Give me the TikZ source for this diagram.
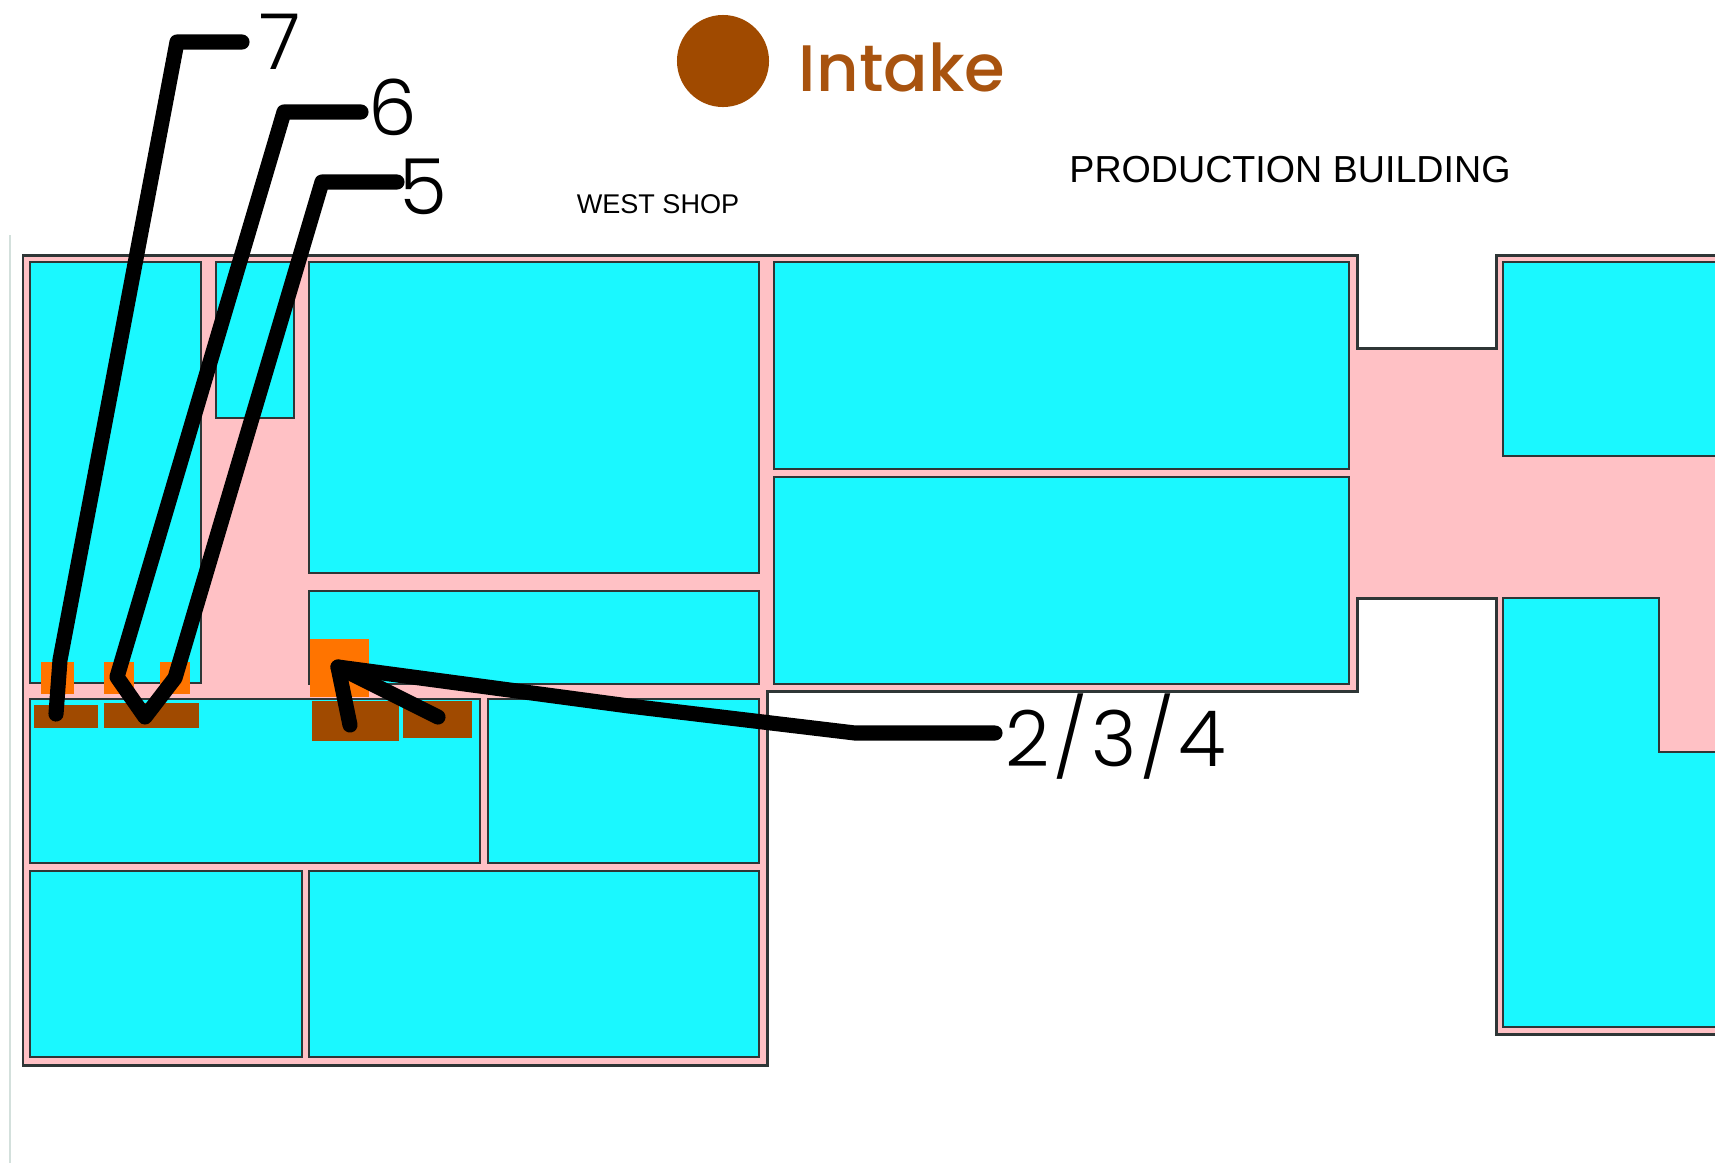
\documentclass[tikz,border=0pt]{standalone}
\usepackage{fontspec}
\setmainfont{Liberation Sans}
\newfontfamily\introfont{Poppins Medium}
\newfontfamily\digitfont{Poppins Light}
\definecolor{roomcyan}{HTML}{1AF8FF}
\definecolor{floorpink}{HTML}{FFC1C5}
\definecolor{wallgray}{HTML}{2E3636}
\definecolor{intakebrown}{HTML}{A04A00}
\definecolor{wordbrown}{HTML}{A8530F}
\definecolor{pipeorange}{HTML}{FF7400}
\definecolor{edgepale}{HTML}{D3E0DC}

\begin{document}
\begin{tikzpicture}[
    x=0.01cm, y=-0.01cm,
    floor style/.style={fill=floorpink, draw=wallgray, line width=0.85pt},
    room style/.style={fill=roomcyan, draw=wallgray, line width=0.7pt},
    inlet/.style={fill=pipeorange},
    tank/.style={fill=intakebrown},
    pointer/.style={draw=black, line width=4.3pt, line cap=round, line join=round},
    digit label/.style={font=\digitfont\fontsize{22pt}{22pt}\selectfont, inner sep=0pt, text=black},
]
    \useasboundingbox (0,0) rectangle (1715,1163);
    \clip (0,0) rectangle (1715,1163);

    % Page edge
    \draw[edgepale, line width=0.5pt] (10,235) -- (10,1163);

    % Floor
    \draw[floor style] (23,255) -- (1357,255) -- (1357,348) -- (1496,348) -- (1496,255)
        -- (1730,255) -- (1730,1034) -- (1496,1034) -- (1496,598) -- (1357,598)
        -- (1357,691) -- (767,691) -- (767,1065) -- (23,1065) -- cycle;

    % West shop rooms
    \draw[room style] (30,262) rectangle (201,683);
    \draw[room style] (216,262) rectangle (294,418);
    \draw[room style] (309,262) rectangle (759,573);
    \draw[room style] (309,591) rectangle (759,684);
    \draw[room style] (30,699) rectangle (480,863);
    \draw[room style] (488,699) rectangle (759,863);
    \draw[room style] (30,871) rectangle (302,1057);
    \draw[room style] (309,871) rectangle (759,1057);

    % Production building rooms
    \draw[room style] (774,262) rectangle (1349,469);
    \draw[room style] (774,477) rectangle (1349,684);
    \draw[room style] (1503,262) rectangle (1730,456);
    \draw[room style] (1503,598) -- (1659,598) -- (1659,752) -- (1730,752) -- (1730,1027) -- (1503,1027) -- cycle;

    % Intakes
    \fill[inlet] (41,662) rectangle (74,694);
    \fill[inlet] (104,662) rectangle (134,694);
    \fill[inlet] (160,662) rectangle (190,694);
    \fill[inlet] (310,639) rectangle (369,697);
    \fill[tank] (34,705) rectangle (98,728);
    \fill[tank] (104,703) rectangle (199,728);
    \fill[tank] (312,701) rectangle (399,741);
    \fill[tank] (403,701) rectangle (472,738);

    % Legend
    \node[circle, fill=intakebrown, minimum size=92*0.2845pt, inner sep=0pt] (dot) at (723,61) {};
    \node[font=\introfont\fontsize{18.7pt}{19pt}\selectfont, text=wordbrown, inner sep=0pt, anchor=center] (intake) at (902,67) {Intake};

    % Labels
    \node[font=\fontsize{7.7pt}{9pt}\selectfont, inner sep=0pt] (west) at (658,204) {WEST SHOP};
    \node[font=\fontsize{10.7pt}{12pt}\selectfont, inner sep=0pt] (production) at (1290,170) {PRODUCTION BUILDING};
    \node[digit label] (n7) at (280,42) {7};
    \node[digit label] (n6) at (393,107) {6};
    \node[digit label] (n5) at (423,187) {5};
    \node[digit label, anchor=center] (n234) at (1116,737) {2\kern1.1pt/\kern1.1pt3\kern1.1pt/\kern1.1pt4};

    % Pointers
    \coordinate (start7) at (242,42);
    \coordinate (bend7) at (177,42);
    \coordinate (lower7) at (60,660);
    \coordinate (foot7) at (56,714);
    \coordinate (start6) at (361,112);
    \coordinate (bend6) at (284,112);
    \coordinate (kneeA) at (117,677);
    \coordinate (kneeB) at (145,717);
    \coordinate (kneeC) at (175,678);
    \coordinate (bend5) at (322,182);
    \coordinate (start5) at (397,182);
    \coordinate (start234) at (995,733);
    \coordinate (bend234) at (855,733);
    \coordinate (sag234) at (629,706);
    \coordinate (tip) at (338,667);
    \coordinate (barbA) at (350,725);
    \coordinate (barbB) at (438,717);

    \draw[pointer] (start7) -- (bend7) -- (lower7) -- (foot7);
    \draw[pointer] (start6) -- (bend6) -- (kneeA) -- (kneeB) -- (kneeC) -- (bend5) -- (start5);
    \draw[pointer] (start234) -- (bend234) -- (sag234) -- (tip) -- (barbA);
    \draw[pointer] (tip) -- (barbB);
\end{tikzpicture}
\end{document}
